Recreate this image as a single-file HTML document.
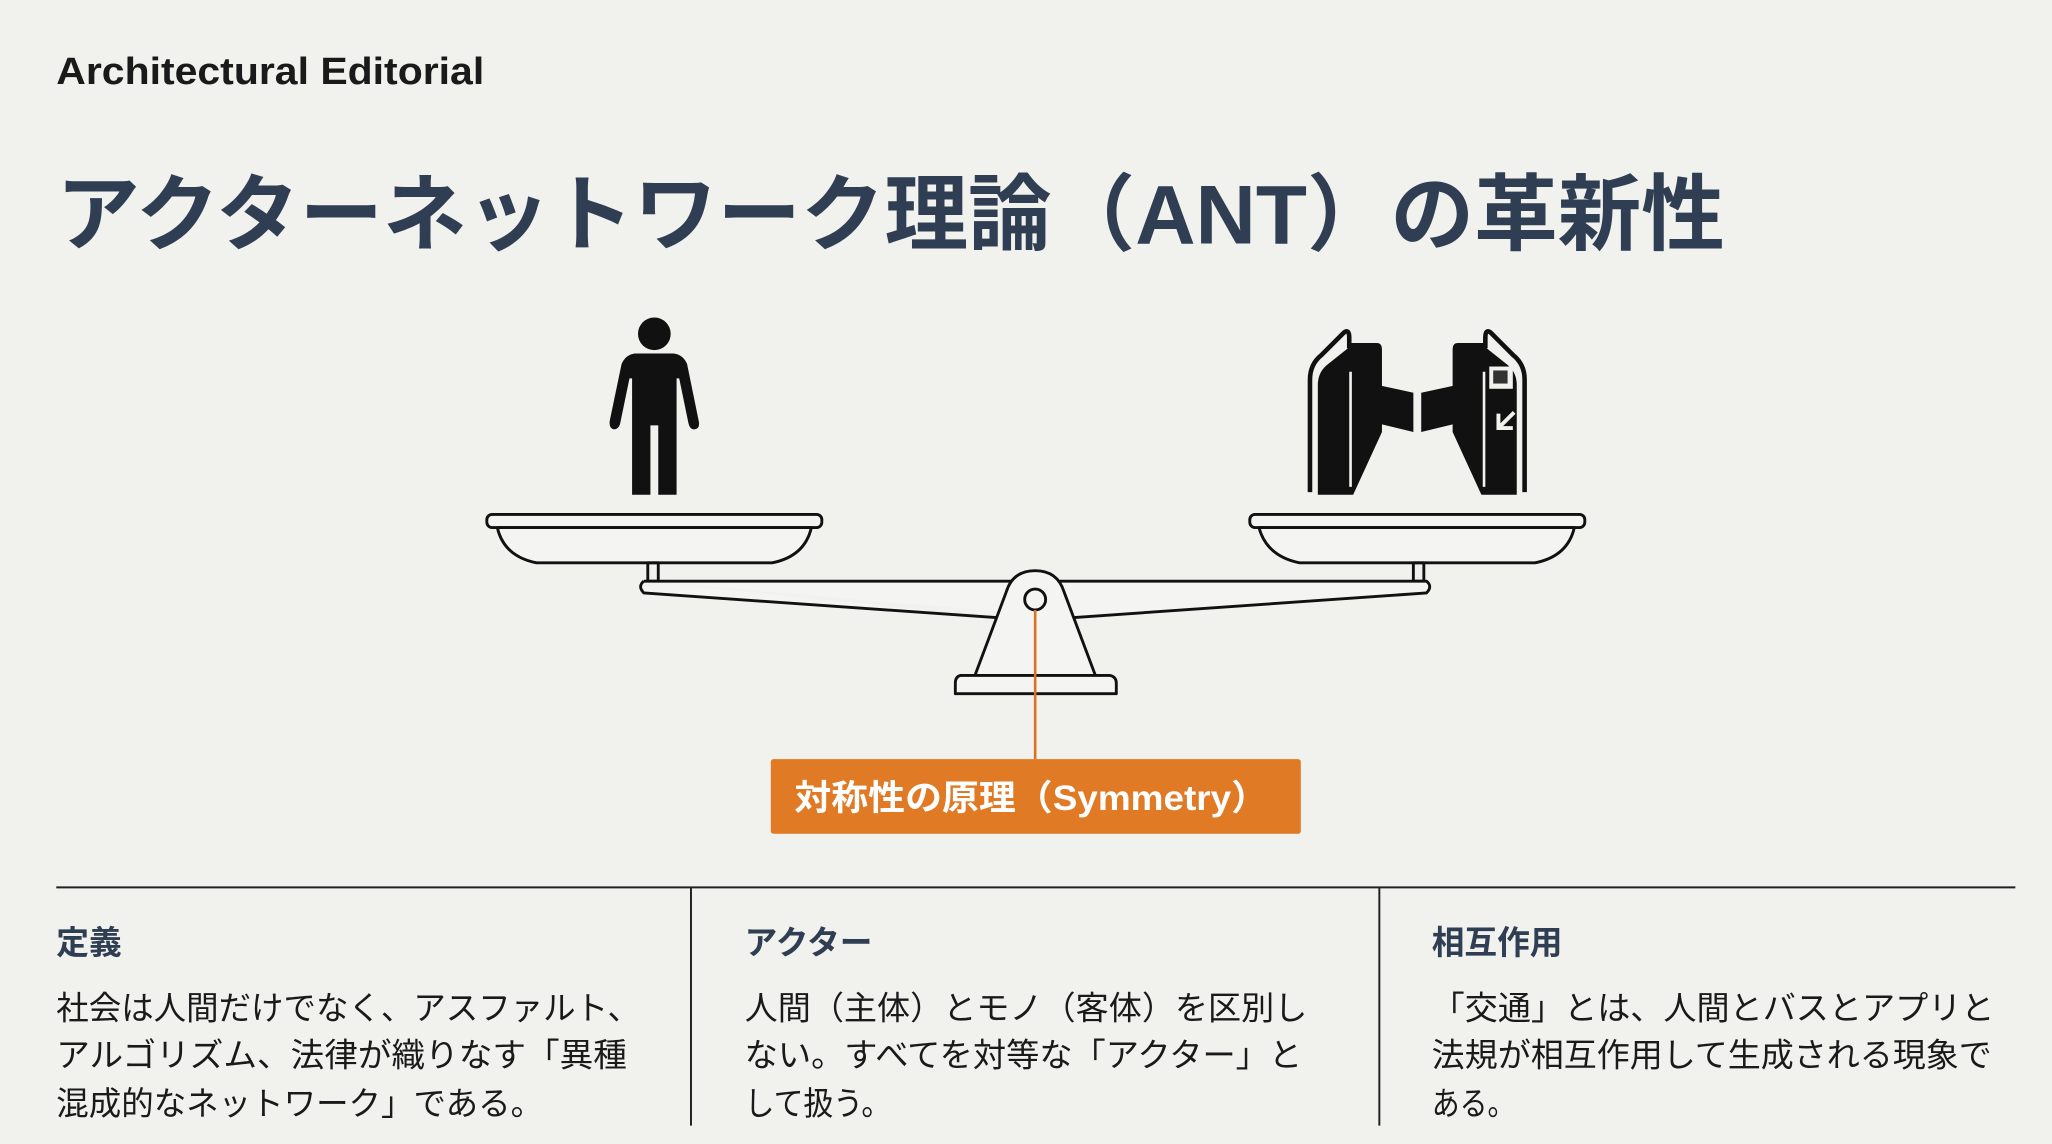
<!DOCTYPE html>
<html><head><meta charset="utf-8"><style>
html,body{margin:0;padding:0;background:#f1f1ee;}
svg{display:block;}
text{font-family:"Liberation Sans","Noto Sans CJK JP",sans-serif;}
</style></head><body>
<svg width="2052" height="1144" viewBox="0 0 1568 874" xmlns="http://www.w3.org/2000/svg">
<rect width="1568" height="874" fill="#f1f1ee"/>
<text x="43" y="64" font-size="29" font-weight="bold" fill="#1a1a1a" textLength="327" lengthAdjust="spacingAndGlyphs">Architectural Editorial</text>
<text x="43" y="186" font-size="64" font-weight="bold" fill="#2f3e52" textLength="1275" lengthAdjust="spacingAndGlyphs">アクターネットワーク理論（ANT）の革新性</text>

<!-- person -->
<g fill="#111">
<circle cx="500" cy="255" r="12.5"/>
<path d="M485 270 H515 Q522 271 525 278 L534 322 Q535 328 530 328 Q527 328 526 323 L519 289 L517 289 L517 378 L503 378 L503 325 L497 325 L497 378 L483 378 L483 289 L481 289 L474 323 Q473 328 469 328 Q465 327 466 321 L475 278 Q478 271 485 270 Z"/>
</g>

<!-- scale -->
<g fill="none" stroke="#111" stroke-width="2.2" stroke-linejoin="round">
<rect x="372" y="393" width="256" height="10" rx="4" fill="#f4f4f2"/>
<path d="M380 403 L620 403 Q615 425 590 430 L410 430 Q385 425 380 403 Z" fill="#f4f4f2"/>
<rect x="955" y="393" width="256" height="10" rx="4" fill="#f4f4f2"/>
<path d="M962 403 L1203 403 Q1198 425 1173 430 L993 430 Q968 425 962 403 Z" fill="#f4f4f2"/>
<rect x="495" y="430" width="8" height="14"/>
<rect x="1080" y="430" width="8" height="14"/>
<path d="M492 444 L1090 444 Q1095 448 1090 453 L818 472 M764 472 L492 453 Q487 448 492 444" fill="#f4f4f2"/>
<path d="M745 516 L769 452 Q774 436 791 436 Q808 436 813 452 L837 516 Z" fill="#f4f4f2"/>
<circle cx="791" cy="458" r="8"/>
<path d="M734 516 L848 516 Q853 517 853 522 L853 530 L730 530 L730 522 Q730 517 734 516 Z" fill="#f4f4f2"/>
</g>
<line x1="791" y1="466" x2="791" y2="580" stroke="#d9731f" stroke-width="2"/>

<!-- turnstile -->
<g>
<!-- left post -->
<path d="M1001 376 L1001 290 Q1001 278 1010 271 L1027 254 Q1031 251 1031 258 L1031 266" fill="none" stroke="#111" stroke-width="3.5" stroke-linejoin="round"/>
<path d="M1007 378 L1007 294 Q1007 284 1015 278 L1030 266 L1030 262 L1052 262 Q1056 262 1056 267 L1056 330 L1034 378 Z" fill="#111"/>
<line x1="1032" y1="284" x2="1032" y2="372" stroke="#f1f1ee" stroke-width="2"/>
<path d="M1043 292 L1080 300 L1080 330 L1043 321 Z" fill="#111"/>
<!-- right post -->
<path d="M1165 376 L1165 290 Q1165 278 1156 271 L1139 254 Q1135 251 1135 258 L1135 266" fill="none" stroke="#111" stroke-width="3.5" stroke-linejoin="round"/>
<path d="M1159 378 L1159 294 Q1159 284 1151 278 L1136 266 L1136 262 L1114 262 Q1110 262 1110 267 L1110 330 L1132 378 Z" fill="#111"/>
<line x1="1134" y1="284" x2="1134" y2="372" stroke="#f1f1ee" stroke-width="2"/>
<path d="M1123 292 L1086 300 L1086 330 L1123 321 Z" fill="#111"/>
<rect x="1138" y="280" width="18" height="17" fill="#f1f1ee"/>
<rect x="1141" y="283" width="11" height="10" fill="#333"/>
<path d="M1145 316 L1145 327 L1156 327 M1145 327 L1157 315" stroke="#f1f1ee" stroke-width="3" fill="none"/>
</g>

<!-- orange label -->
<rect x="589" y="580" width="405" height="57" rx="2" fill="#e07a24"/>
<text x="607" y="619" font-size="27" font-weight="bold" fill="#fff" textLength="362" lengthAdjust="spacingAndGlyphs">対称性の原理（Symmetry）</text>

<!-- bottom -->
<line x1="43" y1="678" x2="1540" y2="678" stroke="#222" stroke-width="1.5"/>
<line x1="528" y1="678" x2="528" y2="860" stroke="#222" stroke-width="1.5"/>
<line x1="1054" y1="678" x2="1054" y2="860" stroke="#222" stroke-width="1.5"/>
<g font-size="25" font-weight="bold" fill="#2f3e52">
<text x="43" y="729">定義</text>
<text x="569" y="729">アクター</text>
<text x="1094" y="729">相互作用</text>
</g>
<g font-size="25" fill="#1a1a1a">
<text x="43" y="779" textLength="446" lengthAdjust="spacingAndGlyphs">社会は人間だけでなく、アスファルト、</text>
<text x="43" y="815" textLength="436" lengthAdjust="spacingAndGlyphs">アルゴリズム、法律が織りなす「異種</text>
<text x="43" y="852" textLength="372" lengthAdjust="spacingAndGlyphs">混成的なネットワーク」である。</text>
<text x="569" y="779" textLength="430" lengthAdjust="spacingAndGlyphs">人間（主体）とモノ（客体）を区別し</text>
<text x="569" y="815" textLength="426" lengthAdjust="spacingAndGlyphs">ない。すべてを対等な「アクター」と</text>
<text x="569" y="852" textLength="112" lengthAdjust="spacingAndGlyphs">して扱う。</text>
<text x="1094" y="779" textLength="430" lengthAdjust="spacingAndGlyphs">「交通」とは、人間とバスとアプリと</text>
<text x="1094" y="815" textLength="428" lengthAdjust="spacingAndGlyphs">法規が相互作用して生成される現象で</text>
<text x="1094" y="852" textLength="64" lengthAdjust="spacingAndGlyphs">ある。</text>
</g>
</svg>
</body></html>
